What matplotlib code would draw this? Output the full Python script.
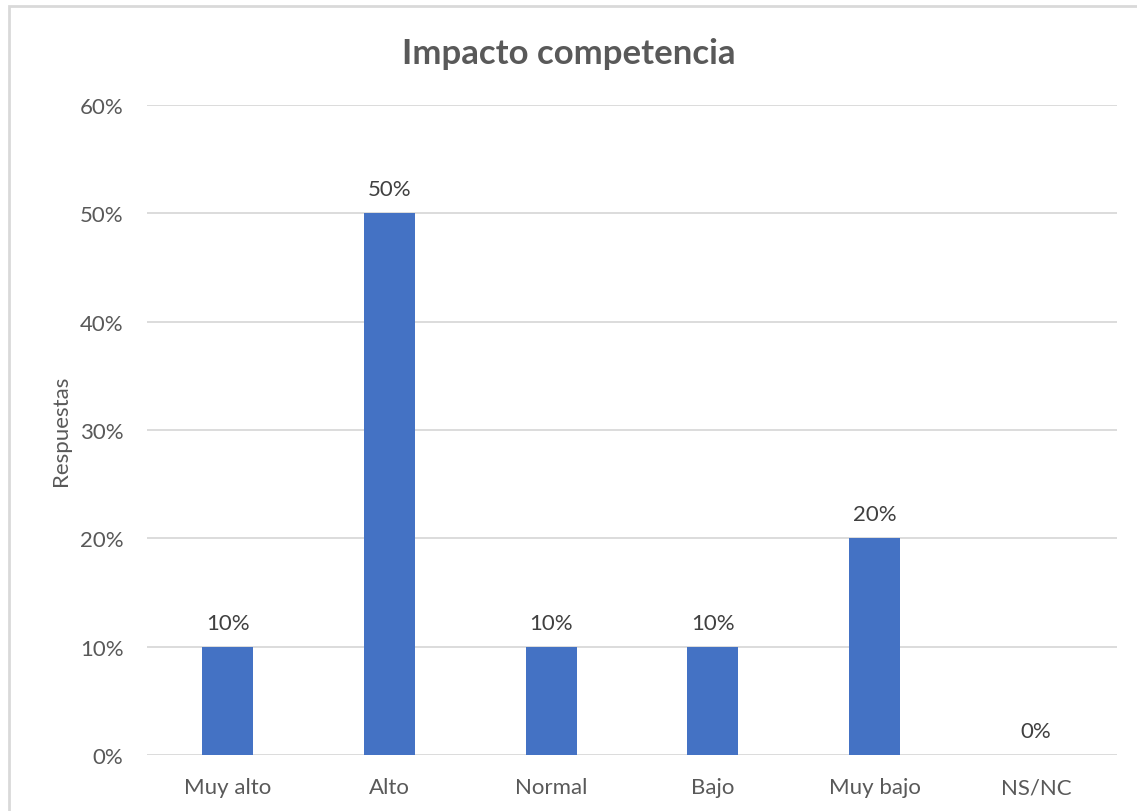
import matplotlib.pyplot as plt
import matplotlib.patches as mpatches
from matplotlib.ticker import FuncFormatter

categories = ["Muy alto", "Alto", "Normal", "Bajo", "Muy bajo", "NS/NC"]
values = [10, 50, 10, 10, 20, 0]
yticks = [0, 10, 20, 30, 40, 50, 60]

text_color = "#595959"
bar_color = "#4472C4"
grid_color = "#D9D9D9"

plt.rcParams["font.family"] = ["Lato", "DejaVu Sans"]

fig = plt.figure(figsize=(11.37, 8.12), dpi=100)
fig.patch.set_facecolor("white")

# chart frame (left and top edges visible in the reference)
frame = mpatches.Rectangle(
    (9 / 1137, -0.1), 1.2, 1 - 7 / 812 + 0.1,
    transform=fig.transFigure, fill=False, edgecolor=grid_color, linewidth=2,
)
fig.patches.append(frame)

ax = fig.add_axes([147 / 1137, 1 - 756 / 812, (1117 - 147) / 1137, (756 - 106) / 812])

x = range(len(categories))
bars = ax.bar(x, values, width=0.315, color=bar_color, zorder=3)

for xi, v in zip(x, values):
    ax.annotate(f"{v}%", (xi, v), xytext=(0, 10), textcoords="offset points",
                ha="center", va="bottom", fontsize=16, color="#404040")

ax.set_xlim(-0.5, len(categories) - 0.5)
ax.set_ylim(0, 60)
ax.set_yticks(yticks)
ax.yaxis.set_major_formatter(FuncFormatter(lambda v, p: f"{v:.0f}%"))
ax.set_xticks(list(x))
ax.set_xticklabels(categories)

ax.grid(axis="y", color=grid_color, linewidth=1.3, zorder=0)
for s in ax.spines.values():
    s.set_visible(False)
ax.tick_params(axis="both", length=0, labelsize=16, labelcolor=text_color)
ax.tick_params(axis="y", pad=17)
ax.tick_params(axis="x", pad=16)

ax.set_ylabel("Respuestas", fontsize=16, color=text_color, labelpad=6)
fig.text(0.5, 1 - 54 / 812, "Impacto competencia", ha="center", va="center",
         fontsize=25, fontweight="bold", color=text_color)

fig.savefig("out.png", dpi=100)
